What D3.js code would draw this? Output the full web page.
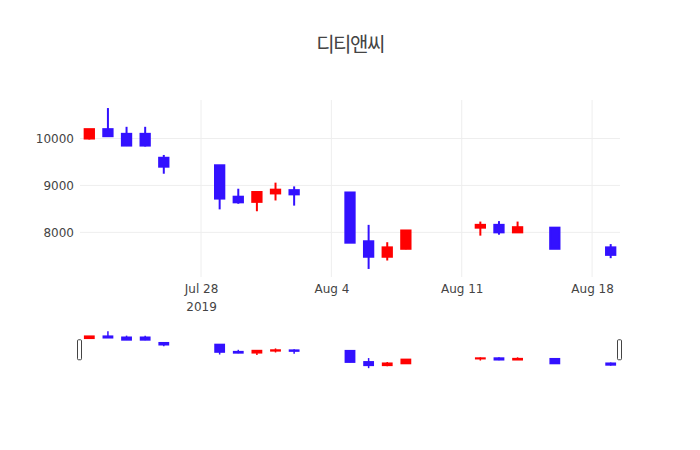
<!DOCTYPE html>
<html>
<head>
<meta charset="utf-8">
<script src="https://cdn.jsdelivr.net/npm/d3@7"></script>
<style>
  body { margin: 0; background: #fff; }
  text { font-family: "DejaVu Sans", "Noto Sans CJK KR", sans-serif; fill: #444; }
</style>
</head>
<body>
<div id="chart"></div>
<script>
// data
const dates  = ["2019-07-22", "2019-07-23", "2019-07-24", "2019-07-25", "2019-07-26",
                "2019-07-29", "2019-07-30", "2019-07-31", "2019-08-01", "2019-08-02",
                "2019-08-05", "2019-08-06", "2019-08-07", "2019-08-08",
                "2019-08-12", "2019-08-13", "2019-08-14", "2019-08-16", "2019-08-19"];
const opens  = [10000, 10200, 10100, 10100, 9590, 9430, 8760, 8650, 8830, 8900,
                8850, 7810, 7480, 7650, 8100, 8160, 8000, 8100, 7680];
const highs  = [10200, 10650, 10250, 10250, 9650, 9430, 8930, 8870, 9060, 8980,
                8850, 8160, 7790, 8040, 8230, 8240, 8230, 8100, 7750];
const lows   = [9980, 10040, 9840, 9830, 9250, 8490, 8610, 8450, 8680, 8570,
                7780, 7220, 7400, 7640, 7930, 7950, 8000, 7650, 7450];
const closes = [10200, 10050, 9850, 9850, 9400, 8720, 8640, 8860, 8910, 8810,
                7780, 7480, 7680, 8040, 8160, 8000, 8110, 7650, 7520];
const xTickDates = ["2019-07-28", "2019-08-04", "2019-08-11", "2019-08-18"];
const yTicks = [8000, 9000, 10000];
const title = "디티앤씨";

// constants
const w = 700,
      h = 450,
      left = 80,
      right = 620,
      mainTop = 100,
      mainBottom = 277,
      sliderTop = 329.5,
      sliderBottom = 370,
      upColor = "#ff0000",
      downColor = "#3311ff";

const parse = d3.timeParse("%Y-%m-%d");
const day = 24 * 3600 * 1000;

let rows = dates.map((d, i) => ({
  date: parse(d), open: opens[i], high: highs[i], low: lows[i], close: closes[i]
}));

let svg = d3.select("#chart")
            .append("svg")
            .attr("width", w)
            .attr("height", h);

// x scale: half a day of padding on each side
let xMin = d3.min(rows, (d) => d.date),
    xMax = d3.max(rows, (d) => d.date);
let xScale = d3.scaleTime()
               .domain([new Date(+xMin - day / 2), new Date(+xMax + day / 2)])
               .range([left, right]);

// y scale: 5% padding like plotly autorange
let yLo = d3.min(lows), yHi = d3.max(highs);
let pad = (yHi - yLo) * 0.05;
let yScale = d3.scaleLinear()
               .domain([yLo - pad, yHi + pad])
               .range([mainBottom, mainTop]);
let ySlider = d3.scaleLinear()
                .domain([yLo - pad, yHi + pad])
                .range([sliderBottom, sliderTop]);

const bodyW = xScale(new Date(+xMin + day * 0.5)) - xScale(xMin);

// grid
svg.append("g")
   .selectAll("line")
   .data(yTicks)
   .enter()
   .append("line")
   .attr("x1", left).attr("x2", right)
   .attr("y1", (d) => yScale(d)).attr("y2", (d) => yScale(d))
   .attr("stroke", "#eee");

let xTicks = xTickDates.map(parse);
svg.append("g")
   .selectAll("line")
   .data(xTicks)
   .enter()
   .append("line")
   .attr("x1", (d) => xScale(d)).attr("x2", (d) => xScale(d))
   .attr("y1", mainTop).attr("y2", mainBottom)
   .attr("stroke", "#eee");

// axes
let yAxis = d3.axisLeft(yScale)
              .tickValues(yTicks)
              .tickSize(0)
              .tickPadding(6)
              .tickFormat(d3.format("d"));
svg.append("g")
   .attr("transform", `translate(${left}, 0)`)
   .call(yAxis)
   .call((g) => g.select(".domain").remove())
   .selectAll("text")
   .style("font-size", "12px")
   .style("font-family", null)
   .attr("fill", "#444");

let fmt = d3.timeFormat("%b %-d");
let xAxis = d3.axisBottom(xScale)
              .tickValues(xTicks)
              .tickSize(0)
              .tickPadding(0)
              .tickFormat(fmt);
let xg = svg.append("g")
            .attr("transform", `translate(0, ${mainBottom})`)
            .call(xAxis)
            .call((g) => g.select(".domain").remove());
xg.selectAll("text")
  .style("font-size", "12px")
  .style("font-family", null)
  .attr("fill", "#444")
  .attr("dy", null)
  .attr("y", 15.5);
// year under the first tick
xg.select(".tick text")
  .append("tspan")
  .attr("x", 0)
  .attr("dy", "1.55em")
  .text(d3.timeFormat("%Y")(xTicks[0]));

// candles
function drawCandles(g, ys, sw) {
  let c = g.selectAll("g.candle")
           .data(rows)
           .enter()
           .append("g")
           .attr("class", "candle")
           .attr("stroke", (d) => d.close >= d.open ? upColor : downColor)
           .attr("fill", (d) => d.close >= d.open ? upColor : downColor)
           .attr("stroke-width", sw);
  c.append("line")
   .attr("x1", (d) => xScale(d.date)).attr("x2", (d) => xScale(d.date))
   .attr("y1", (d) => ys(d.high)).attr("y2", (d) => ys(d.low));
  c.append("rect")
   .attr("x", (d) => xScale(d.date) - bodyW / 2)
   .attr("width", bodyW)
   .attr("y", (d) => ys(Math.max(d.open, d.close)))
   .attr("height", (d) => Math.abs(ys(d.open) - ys(d.close)));
}

drawCandles(svg.append("g"), yScale, 2);

// range slider
let slider = svg.append("g");
slider.append("rect")
      .attr("x", left).attr("y", sliderTop)
      .attr("width", right - left).attr("height", sliderBottom - sliderTop)
      .attr("fill", "#fff");
drawCandles(slider, ySlider, 1.5);
let mid = (sliderTop + sliderBottom) / 2;
slider.selectAll("rect.handle")
      .data([left, right])
      .enter()
      .append("rect")
      .attr("class", "handle")
      .attr("x", (d) => d - 2.5)
      .attr("y", mid - 10)
      .attr("width", 4)
      .attr("height", 20)
      .attr("rx", 1)
      .attr("fill", "#fff")
      .attr("stroke", "#444")
      .attr("stroke-width", 1);

// title
svg.append("text")
   .attr("x", w / 2)
   .attr("y", 43)
   .attr("text-anchor", "middle")
   .attr("dominant-baseline", "central")
   .style("font-family", "'Noto Sans CJK KR', sans-serif")
   .style("font-size", "20px")
   .style("letter-spacing", "-1.5px")
   .text(title);
</script>
</body>
</html>
